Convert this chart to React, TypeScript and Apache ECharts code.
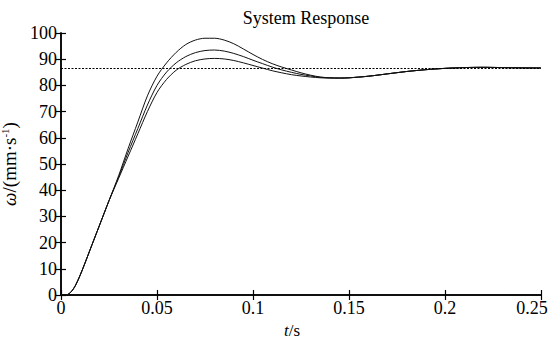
import React, { useEffect, useRef } from "react";
import * as echarts from "echarts";

// time samples (s)
const tRise = [0, 0.0025, 0.005, 0.0075, 0.01, 0.0125, 0.015, 0.02, 0.025];
const riseValues = [0, 0, 1.0, 3.6, 7.6, 12.2, 17, 26.5, 36];

const tMid = [0.03, 0.035, 0.04, 0.045, 0.05, 0.055, 0.06, 0.065, 0.07, 0.075, 0.08, 0.085, 0.09, 0.095, 0.1, 0.105, 0.11, 0.115, 0.12, 0.125, 0.13, 0.135, 0.14];
const upperValues = [45.5, 56, 66, 76, 83.5, 88.6, 92.6, 95.6, 97.3, 98.0, 98.0, 97.3, 95.9, 93.9, 91.8, 89.9, 88.3, 87.0, 85.9, 84.8, 83.9, 83.2, 82.9];
const middleValues = [45, 54.5, 63.5, 72.5, 80, 85.1, 88.6, 91.0, 92.5, 93.3, 93.5, 93.1, 92.2, 91.0, 89.6, 88.3, 87.0, 85.9, 85.0, 84.2, 83.6, 83.1, 82.9];
const lowerValues = [44.5, 53, 61.5, 70, 77.3, 82.3, 85.8, 88.0, 89.4, 90.1, 90.3, 90.1, 89.5, 88.6, 87.6, 86.6, 85.6, 84.8, 84.1, 83.6, 83.2, 82.9, 82.8];

const tTail = [0.145, 0.15, 0.16, 0.17, 0.18, 0.19, 0.2, 0.21, 0.22, 0.23, 0.24, 0.25];
const tailValues = [82.8, 82.9, 83.5, 84.4, 85.3, 86.0, 86.5, 86.8, 86.9, 86.8, 86.7, 86.65];

const steadyValue = 86.6;
const xTicks = [0, 0.05, 0.1, 0.15, 0.2, 0.25];

function buildSeries(mid: number[]) {
  const pts: number[][] = [];
  tRise.forEach((t, i) => pts.push([t, riseValues[i]]));
  tMid.forEach((t, i) => pts.push([t, mid[i]]));
  tTail.forEach((t, i) => pts.push([t, tailValues[i]]));
  return pts;
}

const FONT = "Liberation Serif";

export default function App() {
  const ref = useRef<HTMLDivElement>(null);
  useEffect(() => {
    if (!ref.current) return;
    const chart = echarts.init(ref.current, null, { renderer: "svg" });
    const lineStyle = { color: "#111", width: 1 };
    const axisCommon = {
      axisLine: { show: true, lineStyle: { color: "#000", width: 1.5 } },
      axisTick: { show: true, inside: true, length: 5, lineStyle: { color: "#000", width: 1.2 } },
      splitLine: { show: false },
    };
    chart.setOption({
      animation: false,
      backgroundColor: "#fff",
      textStyle: { fontFamily: FONT },
      title: {
        text: "System Response",
        left: 301,
        top: 4,
        textAlign: "center",
        textStyle: { fontFamily: FONT, fontSize: 18, fontWeight: "normal", color: "#000" },
      },
      grid: { left: 61, right: 11, top: 33, bottom: 44, outerBoundsMode: "none", containLabel: false },
      xAxis: [
        {
          type: "value",
          min: 0,
          max: 0.25,
          interval: 0.05,
          position: "bottom",
          ...axisCommon,
          axisLabel: {
            fontFamily: FONT,
            fontSize: 18,
            color: "#000",
            margin: 4,
            formatter: (v: number) => {
              const m = xTicks.find((x) => Math.abs(x - v) < 1e-9);
              if (m === undefined) return "";
              return m === 0.25 ? "{r|" + String(m) + "}" : String(m);
            },
            rich: { r: { fontFamily: FONT, fontSize: 18, color: "#000", padding: [0, 18, 0, 0] } },
          },
          name: "{i|t}/s",
          nameLocation: "middle",
          nameGap: 19,
          nameTextStyle: {
            fontFamily: FONT,
            fontSize: 17,
            color: "#000",
            lineHeight: 17,
            padding: [0, 18, 0, 0],
            rich: { i: { fontFamily: FONT, fontSize: 17, lineHeight: 17, fontStyle: "italic", color: "#000" } },
          },
        },
        {
          type: "value",
          min: 0,
          max: 0.25,
          interval: 0.05,
          position: "top",
          ...axisCommon,
          axisLabel: { show: false },
        },
      ],
      yAxis: [
        {
          type: "value",
          min: 0,
          max: 100,
          interval: 10,
          position: "left",
          ...axisCommon,
          axisLabel: { fontFamily: FONT, fontSize: 18, color: "#000", margin: 4 },
          name: "{i|ω}/(mm·s{sup|-1})",
          nameLocation: "middle",
          nameGap: 36,
          nameRotate: 90,
          nameTextStyle: {
            fontFamily: FONT,
            fontSize: 19,
            color: "#000",
            rich: {
              i: { fontFamily: FONT, fontSize: 19, fontStyle: "italic", color: "#000" },
              sup: { fontFamily: FONT, fontSize: 11, color: "#000", padding: [0, 0, 9, 0] },
            },
          },
        },
        {
          type: "value",
          min: 0,
          max: 100,
          interval: 10,
          position: "right",
          ...axisCommon,
          axisLabel: { show: false },
        },
      ],
      series: [
        {
          type: "line",
          data: buildSeries(upperValues),
          smooth: 0.3,
          symbol: "none",
          lineStyle,
          markLine: {
            silent: true,
            symbol: "none",
            label: { show: false },
            lineStyle: { color: "#000", width: 1, type: [2, 1.5] },
            data: [{ yAxis: steadyValue }],
          },
        },
        { type: "line", data: buildSeries(middleValues), smooth: 0.3, symbol: "none", lineStyle },
        { type: "line", data: buildSeries(lowerValues), smooth: 0.3, symbol: "none", lineStyle },
      ],
    });
    return () => chart.dispose();
  }, []);
  return <div ref={ref} style={{ position: "fixed", left: 0, top: 0, width: 552, height: 339 }} />;
}
